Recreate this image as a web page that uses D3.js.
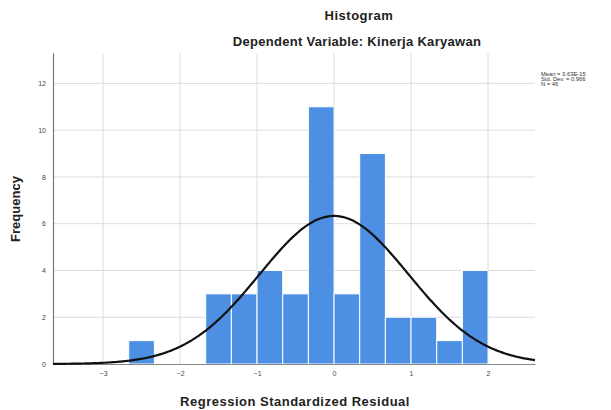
<!DOCTYPE html>
<html>
<head>
<meta charset="utf-8">
<script src="https://cdn.jsdelivr.net/npm/d3@7"></script>
<style>
  html, body { margin: 0; padding: 0; background: #fff; }
  svg { display: block; font-family: "Liberation Sans", Arial, sans-serif; }
</style>
</head>
<body>
<svg id="chart" width="611" height="410"></svg>
<script>
// ---- Data ----
const binStarts = [-2.6667, -1.6667, -1.3333, -1.0, -0.6667, -0.3333, 0.0, 0.3333, 0.6667, 1.0, 1.3333, 1.6667];
const binCounts = [1, 3, 3, 4, 3, 11, 3, 9, 2, 2, 1, 4];
const binWidth = 1 / 3;
const xTicks = [-3, -2, -1, 0, 1, 2];
const yTicks = [0, 2, 4, 6, 8, 10, 12];
const statMean = 0;
const statSD = 0.966;
const statN = 46;
const legendLines = ["Mean = 3.63E-15", "Std. Dev. = 0.966", "N = 46"];

// ---- Layout ----
const svg = d3.select("#chart");
const pLeft = 53, pRight = 535, pTop = 53, pBottom = 364;

const x = d3.scaleLinear().domain([-3.65, 2.61]).range([pLeft, pRight]);
const y = d3.scaleLinear().domain([0, 13.3]).range([pBottom, pTop]);

// Grid
svg.append("g").selectAll("line").data(xTicks).join("line")
  .attr("x1", d => x(d)).attr("x2", d => x(d))
  .attr("y1", pTop).attr("y2", pBottom)
  .attr("stroke", "#dcdcdc").attr("stroke-width", 1);
svg.append("g").selectAll("line").data(yTicks.filter(d => d > 0)).join("line")
  .attr("x1", pLeft).attr("x2", pRight)
  .attr("y1", d => y(d)).attr("y2", d => y(d))
  .attr("stroke", "#dcdcdc").attr("stroke-width", 1);

// Bars
svg.append("g").selectAll("rect").data(binStarts.map((s, i) => ({s, c: binCounts[i]}))).join("rect")
  .attr("x", d => x(d.s))
  .attr("width", d => x(d.s + binWidth) - x(d.s))
  .attr("y", d => y(d.c))
  .attr("height", d => y(0) - y(d.c))
  .attr("fill", "#4c8fe3")
  .attr("stroke", "#ffffff")
  .attr("stroke-width", 1);

// Axes
const xAxis = d3.axisBottom(x).tickValues(xTicks).tickSize(0).tickPadding(7).tickFormat(d3.format("d"));
const gx = svg.append("g").attr("transform", `translate(0,${pBottom})`).call(xAxis);
gx.select(".domain").attr("stroke", "#888");
gx.selectAll("text").attr("font-size", 7).attr("fill", "#444").attr("font-family", "Liberation Sans, Arial, sans-serif");

const yAxis = d3.axisLeft(y).tickValues(yTicks).tickSize(0).tickPadding(7).tickFormat(d3.format("d"));
const gy = svg.append("g").attr("transform", `translate(${pLeft},0)`).call(yAxis);
gy.select(".domain").attr("stroke", "#777").attr("stroke-width", 1.2);
gy.selectAll("text").attr("font-size", 7).attr("fill", "#444").attr("font-family", "Liberation Sans, Arial, sans-serif");

// Normal curve
const xs = d3.range(-3.65, 2.6101, 0.02);
const pdf = v => statN * binWidth * Math.exp(-0.5 * Math.pow((v - statMean) / statSD, 2)) / (statSD * Math.sqrt(2 * Math.PI));
svg.append("path")
  .datum(xs)
  .attr("d", d3.line().x(d => x(d)).y(d => y(pdf(d))).curve(d3.curveBasis))
  .attr("fill", "none")
  .attr("stroke", "#111")
  .attr("stroke-width", 2.2);

// Titles
svg.append("text").attr("x", 359).attr("y", 20).attr("text-anchor", "middle")
  .attr("font-size", 13).attr("font-weight", "bold").attr("letter-spacing", 0.5).attr("fill", "#222").text("Histogram");
svg.append("text").attr("x", 357).attr("y", 46).attr("text-anchor", "middle")
  .attr("font-size", 13).attr("font-weight", "bold").attr("letter-spacing", 0.3).attr("fill", "#222").text("Dependent Variable: Kinerja Karyawan");

// Axis titles
svg.append("text").attr("x", 295).attr("y", 406).attr("text-anchor", "middle")
  .attr("font-size", 13).attr("font-weight", "bold").attr("letter-spacing", 0.5).attr("fill", "#222").text("Regression Standardized Residual");
svg.append("text").attr("transform", "translate(20,209) rotate(-90)").attr("text-anchor", "middle")
  .attr("font-size", 13).attr("font-weight", "bold").attr("fill", "#222").text("Frequency");

// Stats legend
svg.append("g").selectAll("text").data(legendLines).join("text")
  .attr("x", 541).attr("y", (d, i) => 76 + i * 5)
  .attr("font-size", 5.8).attr("fill", "#333").text(d => d);
</script>
</body>
</html>
